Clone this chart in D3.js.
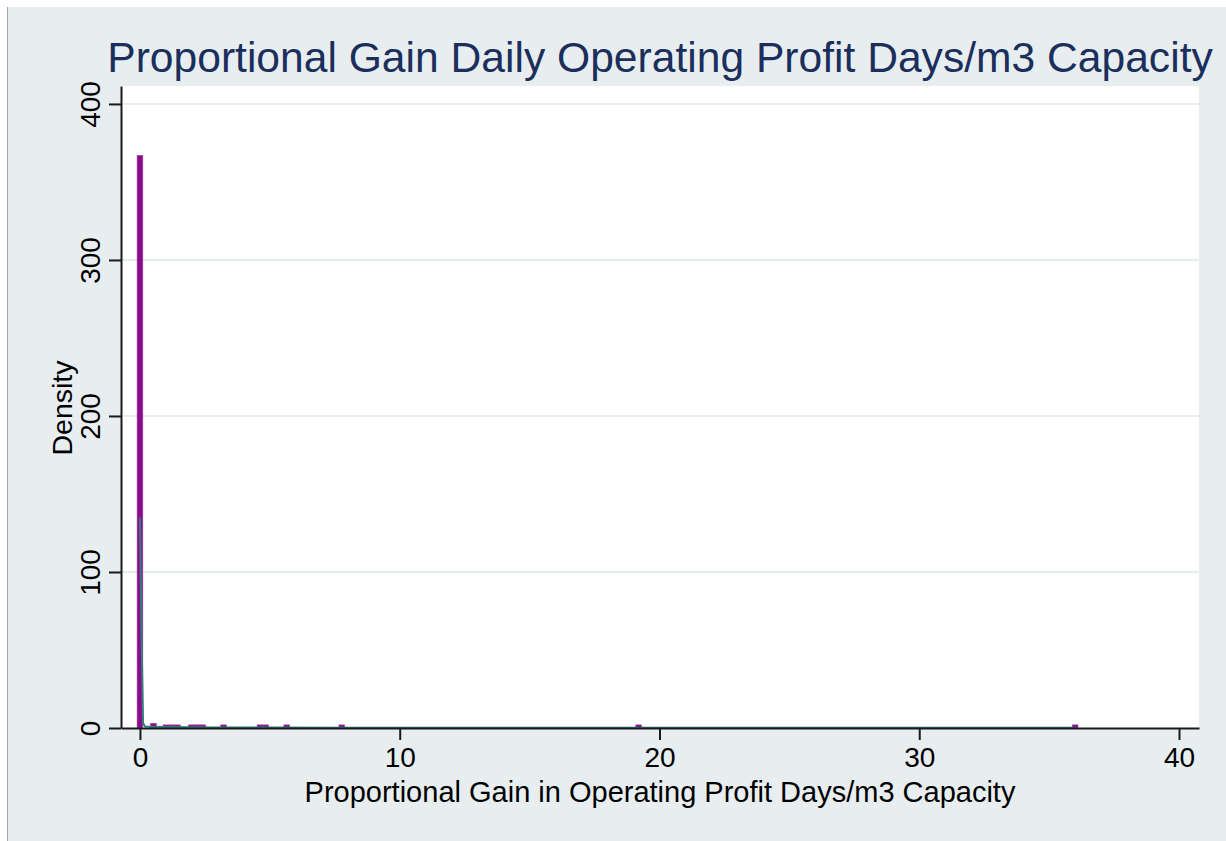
<!DOCTYPE html>
<html>
<head>
<meta charset="utf-8">
<script src="https://cdn.jsdelivr.net/npm/d3@7"></script>
<style>
  body { margin: 0; background: #fff; }
  text { font-family: "Liberation Sans", Arial, sans-serif; }
</style>
</head>
<body>
<div id="chart"></div>
<script>
//global variables
var chartTitle = 'Proportional Gain Daily Operating Profit Days/m3 Capacity';
var xTitle = 'Proportional Gain in Operating Profit Days/m3 Capacity';
var yTitle = 'Density';
var xTicks = [0, 10, 20, 30, 40];
var yTicks = [0, 100, 200, 300, 400];

//histogram bins (center of bin, density)
var binWidth = 0.22;
var binCenters = [0, 0.52, 1.0, 1.22, 1.44, 1.98, 2.2, 2.42, 3.22, 4.62, 4.84, 5.65, 7.77, 19.2, 36.0];
var binDensity = [367, 3, 2, 2, 2, 2, 2, 2, 2, 2, 2, 2, 2, 2, 2];

//kernel density line
var kdeX = [0, 0.06, 0.12, 0.2, 0.5, 1, 2, 3, 5, 8, 12, 19, 25, 36];
var kdeY = [135, 60, 3, 1.0, 0.8, 0.6, 0.5, 0.4, 0.3, 0.2, 0.15, 0.15, 0.1, 0.1];

//MarK: layout
var W = 1226, H = 841;
var margin = { top: 86, right: 27, bottom: 113, left: 121 };
var width = W - margin.left - margin.right;
var height = H - margin.top - margin.bottom;

var svg = d3.select('#chart').append('svg')
  .attr('width', W)
  .attr('height', H);

//outer grey background
svg.append('rect')
  .attr('x', 8).attr('y', 7)
  .attr('width', W - 8).attr('height', H - 7)
  .attr('fill', '#e8eef0');
svg.append('line')
  .attr('x1', 7.5).attr('x2', 7.5)
  .attr('y1', 7).attr('y2', H)
  .attr('stroke', '#a0a4a6')
  .attr('stroke-width', 1);

var g = svg.append('g')
  .attr('transform', 'translate(' + margin.left + ',' + margin.top + ')');

//scales
var x = d3.scaleLinear().domain([-0.73, 40.77]).range([0, width]);
var y = d3.scaleLinear().domain([0, 411.5]).range([height, 0]);

//plot area
g.append('rect')
  .attr('width', width)
  .attr('height', height)
  .attr('fill', '#fff');

//gridlines
g.append('g')
  .selectAll('line')
  .data(yTicks.slice(1))
  .enter().append('line')
  .attr('x1', 0).attr('x2', width)
  .attr('y1', function(d) { return y(d); })
  .attr('y2', function(d) { return y(d); })
  .attr('stroke', '#e6eef0')
  .attr('stroke-width', 2);

//histogram bars
g.append('g')
  .selectAll('rect')
  .data(binCenters)
  .enter().append('rect')
  .attr('x', function(d) { return x(d - binWidth / 2); })
  .attr('width', function() { return x(binWidth) - x(0); })
  .attr('y', function(d, i) { return y(binDensity[i]); })
  .attr('height', function(d, i) { return height - y(binDensity[i]); })
  .attr('fill', '#8a0c8a')
  .attr('stroke', '#a040a0')
  .attr('stroke-width', 0.6);

//kernel density line
var line = d3.line()
  .x(function(d) { return x(d[0]); })
  .y(function(d) { return y(d[1]); });

g.append('path')
  .datum(kdeX.map(function(v, i) { return [v, kdeY[i]]; }))
  .attr('d', line)
  .attr('fill', 'none')
  .attr('stroke', '#2f7f7a')
  .attr('stroke-width', 2);

//x axis
var xAxis = g.append('g')
  .attr('transform', 'translate(0,' + height + ')')
  .call(d3.axisBottom(x).tickValues(xTicks).tickSize(12).tickPadding(7).tickSizeOuter(0));
xAxis.select('.domain').attr('stroke', '#1a1a1a').attr('stroke-width', 2);
xAxis.selectAll('.tick line').attr('stroke', '#1a1a1a').attr('stroke-width', 2);
xAxis.selectAll('.tick text')
  .attr('font-size', 28)
  .attr('fill', '#000')
  .attr('font-family', '"Liberation Sans", Arial, sans-serif');

//y axis
var yAxis = g.append('g')
  .call(d3.axisLeft(y).tickValues(yTicks).tickSize(12).tickPadding(6).tickSizeOuter(0));
yAxis.select('.domain').attr('stroke', '#1a1a1a').attr('stroke-width', 2);
yAxis.selectAll('.tick line').attr('stroke', '#1a1a1a').attr('stroke-width', 2);
yAxis.selectAll('.tick text')
  .attr('font-size', 28)
  .attr('fill', '#000')
  .attr('font-family', '"Liberation Sans", Arial, sans-serif')
  .attr('text-anchor', 'middle')
  .attr('x', 0)
  .attr('dy', 0)
  .attr('transform', 'translate(-21,0) rotate(-90)');

//titles
svg.append('text')
  .attr('x', 660)
  .attr('y', 72)
  .attr('text-anchor', 'middle')
  .attr('font-size', 42.6)
  .attr('fill', '#1b2f5c')
  .text(chartTitle);

svg.append('text')
  .attr('x', 660)
  .attr('y', 802)
  .attr('text-anchor', 'middle')
  .attr('font-size', 29)
  .attr('fill', '#000')
  .text(xTitle);

svg.append('text')
  .attr('transform', 'translate(72,408) rotate(-90)')
  .attr('text-anchor', 'middle')
  .attr('font-size', 28.5)
  .attr('fill', '#000')
  .text(yTitle);
</script>
</body>
</html>
